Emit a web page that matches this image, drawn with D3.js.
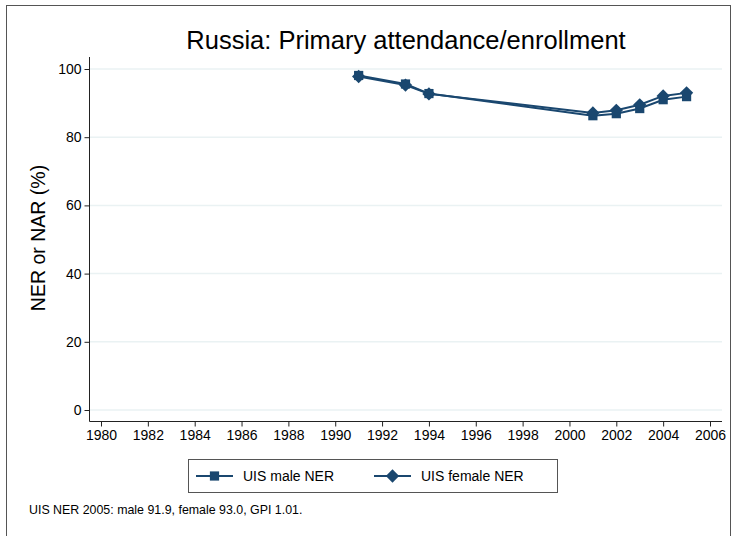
<!DOCTYPE html>
<head>
  <meta charset="utf-8" />
  <script src="https://d3js.org/d3.v7.min.js"></script>
  <style>
    body {
      margin: 0;
      background: #fff;
    }
    text {
      font-family: "Liberation Sans", Arial, sans-serif;
      fill: #000;
    }
  </style>
</head>

<body>
  <script>
    var width = 731,
      height = 536;

    // donnees
    var years = [1991, 1993, 1994, 2001, 2002, 2003, 2004, 2005];
    var maleNER = [98.1, 95.6, 92.8, 86.3, 86.9, 88.4, 91.0, 91.9];
    var femaleNER = [97.8, 95.3, 92.7, 87.1, 87.9, 89.5, 92.1, 93.0];
    var xTicks = d3.range(1980, 2007, 2);
    var yTicks = [0, 20, 40, 60, 80, 100];
    var seriesNames = ["UIS male NER", "UIS female NER"];
    var titleText = "Russia: Primary attendance/enrollment";
    var yLabel = "NER or NAR (%)";
    var note = "UIS NER 2005: male 91.9, female 93.0, GPI 1.01.";

    var navy = "#1a476f";

    var svg = d3
      .select("body")
      .append("svg")
      .attr("width", width)
      .attr("height", height);

    // cadre exterieur
    svg.append("rect")
      .attr("x", 6.5).attr("y", 5.5)
      .attr("width", 724).attr("height", 540)
      .attr("fill", "none")
      .attr("stroke", "#555")
      .attr("stroke-width", 1);

    var x = d3.scaleLinear().domain([1980, 2006]).range([101, 710]);
    var y = d3.scaleLinear().domain([0, 100]).range([410, 69]);

    var plotLeft = 89.5, plotRight = 722, plotTop = 57, plotBottom = 421.5;

    // grille
    svg.append("g")
      .selectAll("line")
      .data(yTicks)
      .join("line")
      .attr("x1", plotLeft)
      .attr("x2", plotRight)
      .attr("y1", (d) => y(d))
      .attr("y2", (d) => y(d))
      .attr("stroke", "#eaf2f3")
      .attr("stroke-width", 1.5);

    // axe y
    var yAxis = svg.append("g")
      .attr("transform", "translate(" + plotLeft + ",0)")
      .call(d3.axisLeft(y).tickValues(yTicks).tickSize(5).tickPadding(3));
    yAxis.select(".domain").attr("d", "M0," + plotTop + "V" + plotBottom);
    yAxis.selectAll("text").style("font-size", "14px");

    // axe x
    var xAxis = svg.append("g")
      .attr("transform", "translate(0," + plotBottom + ")")
      .call(d3.axisBottom(x).tickValues(xTicks).tickFormat(d3.format("d")).tickSize(5).tickPadding(4));
    xAxis.select(".domain").attr("d", "M" + plotLeft + ",0H" + plotRight);
    xAxis.selectAll("text").style("font-size", "14px");
    svg.selectAll(".domain, .tick line").attr("stroke", "#222");

    var line = d3.line()
      .x((d) => x(d[0]))
      .y((d) => y(d[1]));

    var male = years.map((yr, i) => [yr, maleNER[i]]);
    var female = years.map((yr, i) => [yr, femaleNER[i]]);

    // carre et losange (carre tourne de 45 degres)
    var squareSym = d3.symbol().type(d3.symbolSquare).size(85);
    var diamondSym = d3.symbol().type(d3.symbolSquare).size(88);
    var rot = ["", " rotate(45)"];

    [[male, squareSym], [female, diamondSym]].forEach(function (s, k) {
      svg.append("path")
        .datum(s[0])
        .attr("d", line)
        .attr("fill", "none")
        .attr("stroke", navy)
        .attr("stroke-width", 2);
      svg.append("g")
        .selectAll("path")
        .data(s[0])
        .join("path")
        .attr("transform", (d) => "translate(" + x(d[0]) + "," + y(d[1]) + ")" + rot[k])
        .attr("d", s[1])
        .attr("fill", navy);
    });

    // titre
    svg.append("text")
      .attr("x", 406).attr("y", 49)
      .attr("text-anchor", "middle")
      .style("font-size", "25.5px")
      .text(titleText);

    svg.append("text")
      .attr("transform", "translate(45,238) rotate(-90)")
      .attr("text-anchor", "middle")
      .style("font-size", "19.5px")
      .text(yLabel);

    // legende
    var leg = svg.append("g");
    leg.append("rect")
      .attr("x", 188.5).attr("y", 459.5)
      .attr("width", 369).attr("height", 33)
      .attr("fill", "#fff")
      .attr("stroke", "#555");
    var legX = [196, 374];
    var syms = [squareSym, diamondSym];
    seriesNames.forEach(function (name, i) {
      leg.append("line")
        .attr("x1", legX[i]).attr("x2", legX[i] + 37)
        .attr("y1", 476).attr("y2", 476)
        .attr("stroke", navy).attr("stroke-width", 2);
      leg.append("path")
        .attr("transform", "translate(" + (legX[i] + 18.5) + ",476)" + rot[i])
        .attr("d", syms[i])
        .attr("fill", navy);
      leg.append("text")
        .attr("x", legX[i] + 47).attr("y", 481)
        .style("font-size", "14px")
        .text(name);
    });

    svg.append("text")
      .attr("x", 29).attr("y", 514)
      .style("font-size", "12.4px")
      .text(note);
  </script>
</body>
